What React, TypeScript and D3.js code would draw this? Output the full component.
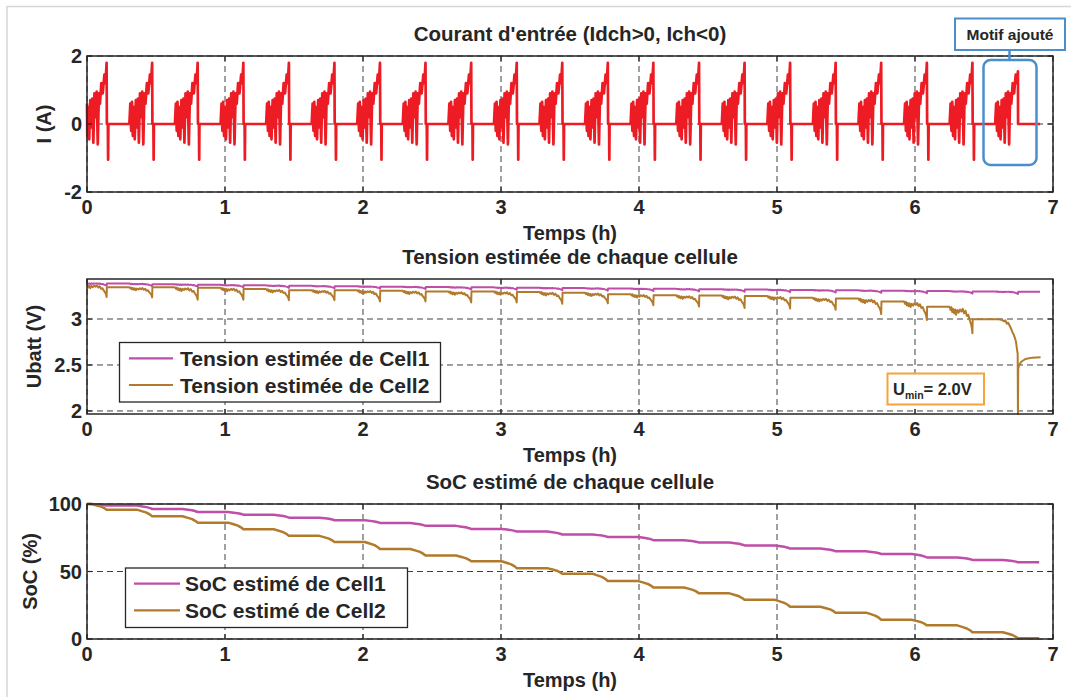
import React from "react";
import * as d3 from "d3";

// ---------- data ----------
const hourTicks = [0, 1, 2, 3, 4, 5, 6, 7];
const currentTicks = [-2, 0, 2];
const voltageTicks = [2, 2.5, 3];
const socTicks = [0, 50, 100];

// time (h) of the current peak of every discharge pattern
const cyclePeaks = [0.142, 0.472, 0.802, 1.133, 1.463, 1.793, 2.123, 2.453, 2.784, 3.114, 3.444, 3.774, 4.104, 4.435, 4.765, 5.095, 5.425, 5.755, 6.086, 6.416, 6.746];
const cyclePeakCurrent = [1.8, 1.8, 1.8, 1.8, 1.8, 1.8, 1.8, 1.8, 1.8, 1.8, 1.8, 1.8, 1.8, 1.8, 1.8, 1.8, 1.8, 1.8, 1.8, 1.8, 1.55];
const cycleRechargeSpike = [true, true, true, true, true, true, true, true, true, true, true, true, true, true, true, true, true, true, true, true, false];
const dataEnd = 6.906;

// current pattern around a peak: [dt (h), I (A)]
const currentStart: [number, number] = [0, 0.6];
const currentMotif: [number, number][] = [
  [-0.165, 0], [-0.158, 0.6], [-0.152, -0.2], [-0.146, 0.65], [-0.14, -0.35], [-0.133, 0.5],
  [-0.126, -0.45], [-0.118, 0.7], [-0.11, -0.1], [-0.103, 0.75], [-0.096, -0.55], [-0.088, 0.9],
  [-0.08, 0.2], [-0.072, 0.95], [-0.064, -0.6], [-0.056, 0.9], [-0.048, 0.6], [-0.038, 1.2],
  [-0.028, 0.9], [-0.016, 1.45], [-0.008, 1.2], [0, 1.8], [0.002, 0], [0.009, 0], [0.011, -1.05], [0.013, 0],
];

// voltage dip shape during a pattern: [dt (h), fraction of dip depth]
const voltageMotif: [number, number][] = [
  [-0.165, 0], [-0.158, 0.12], [-0.152, 0.02], [-0.146, 0.2], [-0.14, 0.08], [-0.133, 0.25],
  [-0.126, 0.1], [-0.118, 0.3], [-0.11, 0.12], [-0.1, 0.22], [-0.09, 0.1], [-0.08, 0.18],
  [-0.07, 0.08], [-0.06, 0.25], [-0.05, 0.15], [-0.04, 0.35], [-0.03, 0.3], [-0.02, 0.5],
  [-0.01, 0.65], [-0.004, 0.8], [0, 1],
];

const cell1VoltStart = 3.39;
const cell1VoltPlateau = [3.385, 3.378, 3.372, 3.366, 3.361, 3.356, 3.352, 3.348, 3.344, 3.34, 3.336, 3.332, 3.328, 3.324, 3.32, 3.316, 3.312, 3.308, 3.304, 3.3, 3.296];
const cell1VoltDip = [3.36, 3.355, 3.35, 3.343, 3.338, 3.333, 3.33, 3.325, 3.32, 3.317, 3.312, 3.308, 3.304, 3.3, 3.296, 3.292, 3.288, 3.284, 3.28, 3.276, 3.272];

const cell2VoltStart = 3.376;
const cell2VoltPlateau = [3.345, 3.345, 3.34, 3.325, 3.314, 3.314, 3.307, 3.3, 3.3, 3.295, 3.285, 3.27, 3.257, 3.255, 3.25, 3.23, 3.224, 3.19, 3.133, 2.997];
const cell2VoltDip = [3.24, 3.235, 3.21, 3.21, 3.205, 3.205, 3.19, 3.19, 3.18, 3.18, 3.165, 3.17, 3.15, 3.135, 3.12, 3.115, 3.1, 3.054, 2.99, 2.845];
const cell2VoltTail: [number, number][] = [
  [6.61, 2.997], [6.63, 2.99], [6.645, 2.975], [6.655, 2.985], [6.665, 2.95], [6.675, 2.96],
  [6.685, 2.93], [6.695, 2.9], [6.705, 2.86], [6.715, 2.83], [6.725, 2.79], [6.732, 2.75],
  [6.738, 2.68], [6.744, 2.62], [6.746, 1.967], [6.748, 2.46], [6.755, 2.5], [6.77, 2.535],
  [6.8, 2.565], [6.85, 2.58], [6.91, 2.585],
];

// SoC step shape: [dt (h), fraction of step]
const socMotif: [number, number][] = [[-0.11, 0], [-0.07, 0.25], [-0.04, 0.45], [-0.015, 0.75], [0, 1]];
const soc1Levels = [98.8, 96.3, 94.1, 92.1, 89.9, 88.0, 86.0, 83.8, 81.5, 79.6, 77.4, 75.6, 73.2, 71.5, 69.3, 67.0, 65.0, 63.0, 60.4, 58.6, 56.9];
const soc2Levels = [95.8, 90.9, 86.2, 81.3, 76.4, 71.9, 66.7, 61.8, 57.6, 52.5, 48.3, 42.9, 38.2, 33.8, 29.0, 23.9, 19.5, 14.3, 10.1, 5.0, 0.5];
const socEnd = 6.9;

// ---------- series builders ----------
type P = [number, number];

function buildCurrent(): P[] {
  const pts: P[] = [currentStart];
  cyclePeaks.forEach((tp, k) => {
    currentMotif.forEach(([dt, v]) => {
      const t = tp + dt;
      if (t <= 0) return;
      if (dt > 0.0015 && !cycleRechargeSpike[k]) return;
      pts.push([t, dt === 0 ? cyclePeakCurrent[k] : v]);
    });
    if (!cycleRechargeSpike[k]) pts.push([tp + 0.001, 0]);
  });
  pts.push([dataEnd, 0]);
  return pts;
}

function buildVoltage(start: number, plateaus: number[], dips: number[]): P[] {
  const pts: P[] = [[0, start]];
  let prev = start;
  plateaus.forEach((pl, k) => {
    const tp = cyclePeaks[k];
    const depth = prev - dips[k];
    voltageMotif.forEach(([dt, f]) => {
      const t = tp + dt;
      if (t <= 0) return;
      pts.push([t, prev - f * depth]);
    });
    pts.push([tp + 0.002, pl]);
    prev = pl;
  });
  return pts;
}

function buildSoc(levels: number[]): P[] {
  const pts: P[] = [[0, 100]];
  let prev = 100;
  levels.forEach((lv, k) => {
    const tp = cyclePeaks[k];
    socMotif.forEach(([dt, f]) => {
      const t = tp + dt;
      if (t <= 0) return;
      pts.push([t, prev - f * (prev - lv)]);
    });
    prev = lv;
  });
  pts.push([socEnd, prev]);
  return pts;
}

const currentData = buildCurrent();
const cell1Volt = [...buildVoltage(cell1VoltStart, cell1VoltPlateau, cell1VoltDip), [dataEnd, cell1VoltPlateau[cell1VoltPlateau.length - 1]] as P];
const cell2Volt = [...buildVoltage(cell2VoltStart, cell2VoltPlateau, cell2VoltDip), ...cell2VoltTail];
const soc1 = buildSoc(soc1Levels);
const soc2 = buildSoc(soc2Levels);

// ---------- style ----------
const FONT = "'Liberation Sans', Arial, Helvetica, sans-serif";
const TXT = "#262626";
const RED = "#ed1c24";
const MAG = "#bf4ea8";
const BRN = "#b27a2c";
const BLUE = "#4a8fcc";
const ORANGE = "#f5a33a";

const X0 = 87, X1 = 1053;
const x = d3.scaleLinear().domain([0, 7]).range([X0, X1]);

type PanelProps = {
  top: number; bottom: number; title: string; yLabel: string; yLabelX: number;
  y: d3.ScaleLinear<number, number>; yTicks: number[]; children?: React.ReactNode;
};

function Panel({ top, bottom, title, yLabel, yLabelX, y, yTicks, children }: PanelProps) {
  const cx = (X0 + X1) / 2;
  const cy = (top + bottom) / 2;
  return (
    <g>
      {hourTicks.map((h) => (
        <line key={"gx" + h} x1={x(h)} x2={x(h)} y1={top} y2={bottom} stroke="#404040" strokeWidth={1} strokeDasharray="6 4" />
      ))}
      {yTicks.map((v) => (
        <line key={"gy" + v} x1={X0} x2={X1} y1={y(v)} y2={y(v)} stroke="#404040" strokeWidth={1} strokeDasharray="6 4" />
      ))}
      {children}
      <rect x={X0} y={top} width={X1 - X0} height={bottom - top} fill="none" stroke={TXT} strokeWidth={1.5} />
      {hourTicks.map((h) => (
        <g key={"tx" + h}>
          <line x1={x(h)} x2={x(h)} y1={bottom} y2={bottom - 5} stroke={TXT} strokeWidth={1.2} />
          <line x1={x(h)} x2={x(h)} y1={top} y2={top + 5} stroke={TXT} strokeWidth={1.2} />
          <text x={x(h)} y={bottom + 22} textAnchor="middle" fontSize={20} fontWeight="bold" fill={TXT} fontFamily={FONT}>{h}</text>
        </g>
      ))}
      {yTicks.map((v) => (
        <g key={"ty" + v}>
          <line x1={X0} x2={X0 + 5} y1={y(v)} y2={y(v)} stroke={TXT} strokeWidth={1.2} />
          <line x1={X1} x2={X1 - 5} y1={y(v)} y2={y(v)} stroke={TXT} strokeWidth={1.2} />
          <text x={82} y={y(v) + 7} textAnchor="end" fontSize={20} fontWeight="bold" fill={TXT} fontFamily={FONT}>{v}</text>
        </g>
      ))}
      <text x={cx} y={top - 15} textAnchor="middle" fontSize={20.5} fontWeight="bold" fill={TXT} fontFamily={FONT}>{title}</text>
      <text x={cx} y={bottom + 48} textAnchor="middle" fontSize={20} fontWeight="bold" fill={TXT} fontFamily={FONT}>Temps (h)</text>
      <text transform={`translate(${yLabelX},${cy}) rotate(-90)`} textAnchor="middle" fontSize={20} fontWeight="bold" fill={TXT} fontFamily={FONT}>{yLabel}</text>
    </g>
  );
}

function Legend({ x0, y0, w, h, lineX0, lineX1, textX, rows }: { x0: number; y0: number; w: number; h: number; lineX0: number; lineX1: number; textX: number; rows: { label: string; color: string; y: number }[] }) {
  return (
    <g>
      <rect x={x0} y={y0} width={w} height={h} fill="#ffffff" stroke={TXT} strokeWidth={1.3} />
      {rows.map((r) => (
        <g key={r.label}>
          <line x1={lineX0} x2={lineX1} y1={r.y} y2={r.y} stroke={r.color} strokeWidth={2.2} />
          <text x={textX} y={r.y + 7.5} fontSize={21} fontWeight="bold" fill={TXT} fontFamily={FONT}>{r.label}</text>
        </g>
      ))}
    </g>
  );
}

export default function App() {
  const yI = d3.scaleLinear().domain([-2, 2]).range([192, 56]);
  const yV = d3.scaleLinear().domain([1.967, 3.435]).range([414, 279]);
  const yS = d3.scaleLinear().domain([0, 100]).range([639, 504]);

  const lineI = d3.line<P>().x((d) => x(d[0])).y((d) => yI(d[1]));
  const lineV = d3.line<P>().x((d) => x(d[0])).y((d) => yV(d[1]));
  const lineS = d3.line<P>().x((d) => x(d[0])).y((d) => yS(d[1]));

  return (
    <svg width={1071} height={697} style={{ position: "absolute", left: 0, top: 0, background: "#ffffff" }} xmlns="http://www.w3.org/2000/svg">
      <rect x={0} y={0} width={1071} height={697} fill="#ffffff" />
      <rect x={7} y={6.5} width={1080} height={700} fill="none" stroke="#d6d6d6" strokeWidth={1.5} />

      <Panel top={56} bottom={192} title="Courant d'entrée (Idch>0, Ich<0)" yLabel="I (A)" yLabelX={51} y={yI} yTicks={currentTicks}>
        <path d={lineI(currentData) || ""} fill="none" stroke={RED} strokeWidth={2.7} strokeLinejoin="round" />
      </Panel>

      <Panel top={279} bottom={414} title="Tension estimée de chaque cellule" yLabel="Ubatt (V)" yLabelX={41} y={yV} yTicks={voltageTicks}>
        <path d={lineV(cell1Volt) || ""} fill="none" stroke={MAG} strokeWidth={2} strokeLinejoin="round" />
        <path d={lineV(cell2Volt) || ""} fill="none" stroke={BRN} strokeWidth={2} strokeLinejoin="round" />
      </Panel>

      <Panel top={504} bottom={639} title="SoC estimé de chaque cellule" yLabel="SoC (%)" yLabelX={37} y={yS} yTicks={socTicks}>
        <path d={lineS(soc1) || ""} fill="none" stroke={MAG} strokeWidth={2.5} strokeLinejoin="round" />
        <path d={lineS(soc2) || ""} fill="none" stroke={BRN} strokeWidth={2.5} strokeLinejoin="round" />
      </Panel>

      <Legend x0={119.5} y0={342.5} w={321} h={59.5} lineX0={129} lineX1={173} textX={180}
        rows={[{ label: "Tension estimée de Cell1", color: MAG, y: 358.3 }, { label: "Tension estimée de Cell2", color: BRN, y: 385 }]} />
      <Legend x0={125.5} y0={568} w={282} h={59.5} lineX0={134} lineX1={180} textX={185}
        rows={[{ label: "SoC estimé de Cell1", color: MAG, y: 583.7 }, { label: "SoC estimé de Cell2", color: BRN, y: 610.3 }]} />

      {/* Motif ajouté annotation */}
      <rect x={983.5} y={60} width={53} height={105} rx={7} ry={7} fill="none" stroke={BLUE} strokeWidth={2.5} />
      <line x1={1009.5} x2={1009.5} y1={50} y2={60} stroke={BLUE} strokeWidth={2.5} />
      <rect x={955} y={18.5} width={110} height={31.5} fill="#ffffff" stroke={BLUE} strokeWidth={2} />
      <text x={1010} y={39.5} textAnchor="middle" fontSize={15.5} fontWeight="bold" fill={TXT} fontFamily={FONT}>Motif ajouté</text>

      {/* Umin annotation */}
      <rect x={887.5} y={373.5} width={96.5} height={31} fill="#ffffff" stroke={ORANGE} strokeWidth={2} />
      <text x={893} y={395} fontSize={16.5} fontWeight="bold" fill={TXT} fontFamily={FONT}>
        U<tspan fontSize={10.5} dy={3.5}>min</tspan><tspan dy={-3.5}>= 2.0V</tspan>
      </text>
    </svg>
  );
}
